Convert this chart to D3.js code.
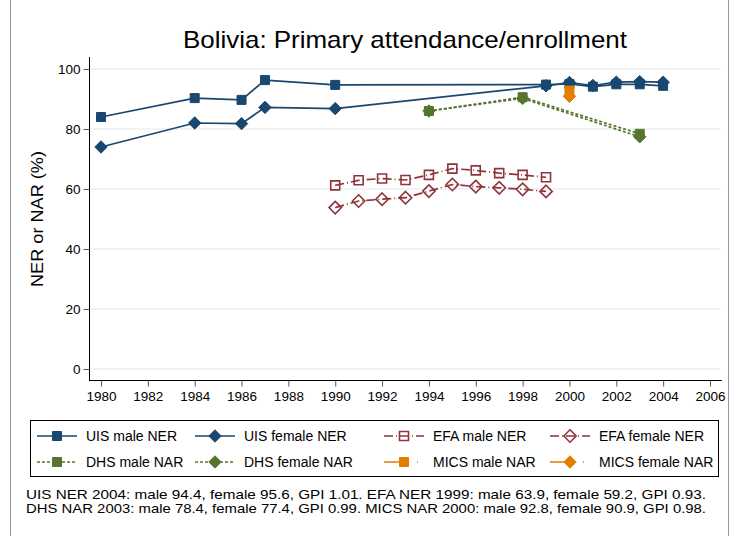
<html>
<head>
<meta charset="utf-8">
<script src="https://d3js.org/d3.v7.min.js"></script>
<style>
body { margin: 0; background: #fff; }
text { font-family: "Liberation Sans", Arial, sans-serif; }
</style>
</head>
<body>
<svg id="page"></svg>
<script>
// data
var uisYears = [1980, 1984, 1986, 1987, 1990, 1999, 2000, 2001, 2002, 2003, 2004];
var uisMale = [84.0, 90.3, 89.7, 96.3, 94.7, 94.8, 95.0, 94.1, 94.9, 94.9, 94.4];
var uisFemale = [74.0, 82.0, 81.8, 87.2, 86.8, 94.4, 95.5, 94.5, 95.6, 95.8, 95.6];
var efaYears = [1990, 1991, 1992, 1993, 1994, 1995, 1996, 1997, 1998, 1999];
var efaMale = [61.2, 62.9, 63.5, 63.0, 64.7, 66.8, 66.2, 65.3, 64.7, 63.9];
var efaFemale = [53.8, 56.0, 56.6, 57.1, 59.3, 61.5, 60.8, 60.4, 59.9, 59.2];
var dhsYears = [1994, 1998, 2003];
var dhsMale = [86.0, 90.6, 78.4];
var dhsFemale = [86.0, 90.2, 77.4];
var micsYears = [2000];
var micsMale = [92.8];
var micsFemale = [90.9];
var yTicks = [0, 20, 40, 60, 80, 100];
var xTicks = d3.range(1980, 2007, 2);
var notes = [
  "UIS NER 2004: male 94.4, female 95.6, GPI 1.01. EFA NER 1999: male 63.9, female 59.2, GPI 0.93.",
  "DHS NAR 2003: male 78.4, female 77.4, GPI 0.99. MICS NAR 2000: male 92.8, female 90.9, GPI 0.98."
];

var navy = "#1a476f", maroon = "#90353b", green = "#55752f", orange = "#e37e00";

var series = [
  {name: "UIS male NER", years: uisYears, vals: uisMale, color: navy, shape: "square", fill: true, dash: null},
  {name: "UIS female NER", years: uisYears, vals: uisFemale, color: navy, shape: "diamond", fill: true, dash: null},
  {name: "EFA male NER", years: efaYears, vals: efaMale, color: maroon, shape: "square", fill: false, dash: "9,3,1,3"},
  {name: "EFA female NER", years: efaYears, vals: efaFemale, color: maroon, shape: "diamond", fill: false, dash: "9,3,1,3"},
  {name: "DHS male NAR", years: dhsYears, vals: dhsMale, color: green, shape: "square", fill: true, dash: "3,2"},
  {name: "DHS female NAR", years: dhsYears, vals: dhsFemale, color: green, shape: "diamond", fill: true, dash: "3,2"},
  {name: "MICS male NAR", years: micsYears, vals: micsMale, color: orange, shape: "square", fill: true, dash: "24,9,1,20"},
  {name: "MICS female NAR", years: micsYears, vals: micsFemale, color: orange, shape: "diamond", fill: true, dash: "24,9,1,20"}
];

var svg = d3.select("#page").attr("width", 731).attr("height", 536);

// outer frame
svg.append("rect").attr("x", 10.5).attr("y", -1).attr("width", 718).attr("height", 538)
  .attr("fill", "none").attr("stroke", "#999").attr("stroke-width", 1);

var x = d3.scaleLinear().domain([1980, 2006]).range([101, 710]);
var y = d3.scaleLinear().domain([0, 100]).range([369, 69]);

// grid
svg.append("g").selectAll("line").data(yTicks).enter().append("line")
  .attr("x1", 90).attr("x2", 721)
  .attr("y1", function(d) { return y(d); }).attr("y2", function(d) { return y(d); })
  .attr("stroke", "#eaf2f3").attr("stroke-width", 1.5);

// axes
var yAxis = svg.append("g").attr("transform", "translate(89.5,0)")
  .call(d3.axisLeft(y).tickValues(yTicks).tickSize(6).tickPadding(3));
yAxis.select(".domain").attr("d", "M0,57V380.5");
var xAxis = svg.append("g").attr("transform", "translate(0,380.5)")
  .call(d3.axisBottom(x).tickValues(xTicks).tickFormat(d3.format("d")).tickSize(6).tickPadding(5));
xAxis.select(".domain").attr("d", "M89,0H722");
svg.selectAll(".domain").attr("stroke", "#000");
svg.selectAll(".tick line").attr("stroke", "#555");
svg.selectAll(".tick text").attr("font-size", 13.5).attr("fill", "#000")
  .attr("font-family", "Liberation Sans, Arial, sans-serif");

// title and axis title
svg.append("text").attr("x", 405).attr("y", 48).attr("text-anchor", "middle")
  .attr("font-size", 24).attr("textLength", 444).attr("lengthAdjust", "spacingAndGlyphs")
  .text("Bolivia: Primary attendance/enrollment");
svg.append("text").attr("transform", "translate(43,219) rotate(-90)")
  .attr("text-anchor", "middle").attr("font-size", 17).attr("textLength", 136)
  .attr("lengthAdjust", "spacingAndGlyphs").text("NER or NAR (%)");

function markerPath(shape) {
  if (shape === "square") return "M-4.5,-4.5H4.5V4.5H-4.5Z";
  return "M0,-6.2L6.2,0L0,6.2L-6.2,0Z";
}

function drawMarker(g, s, cx, cy) {
  g.append("path").attr("d", markerPath(s.shape))
    .attr("transform", "translate(" + cx + "," + cy + ")")
    .attr("fill", s.fill ? s.color : "#fff")
    .attr("fill-opacity", s.fill ? 1 : 0)
    .attr("stroke", s.color).attr("stroke-width", s.fill ? 1 : 1.6);
}

var line = d3.line().x(function(d) { return x(d[0]); }).y(function(d) { return y(d[1]); });

var plot = svg.append("g");
series.forEach(function(s) {
  var pts = s.years.map(function(yr, i) { return [yr, s.vals[i]]; });
  if (pts.length > 1) {
    plot.append("path").datum(pts).attr("d", line)
      .attr("fill", "none").attr("stroke", s.color).attr("stroke-width", 1.7)
      .attr("stroke-dasharray", s.dash);
  }
  pts.forEach(function(p) { drawMarker(plot, s, x(p[0]), y(p[1])); });
});

// legend
svg.append("rect").attr("x", 30.5).attr("y", 420.5).attr("width", 688).attr("height", 56)
  .attr("fill", "#fff").attr("stroke", "#000").attr("stroke-width", 1);
var colX = [37, 195, 384, 550];
series.forEach(function(s, i) {
  var col = i % 4, row = Math.floor(i / 4);
  var lx = colX[col], ly = 436 + row * 26;
  var g = svg.append("g");
  g.append("line").attr("x1", lx).attr("x2", lx + 40).attr("y1", ly).attr("y2", ly)
    .attr("stroke", s.color).attr("stroke-width", 1.7).attr("stroke-dasharray", s.dash);
  drawMarker(g, s, lx + 20, ly);
  g.append("text").attr("x", lx + 49).attr("y", ly + 5).attr("font-size", 14).text(s.name);
});

// notes
svg.selectAll(".note").data(notes).enter().append("text")
  .attr("x", 26).attr("y", function(d, i) { return 499 + i * 13.5; })
  .attr("font-size", 13).attr("textLength", 680).attr("lengthAdjust", "spacingAndGlyphs")
  .text(function(d) { return d; });
</script>
</body>
</html>
